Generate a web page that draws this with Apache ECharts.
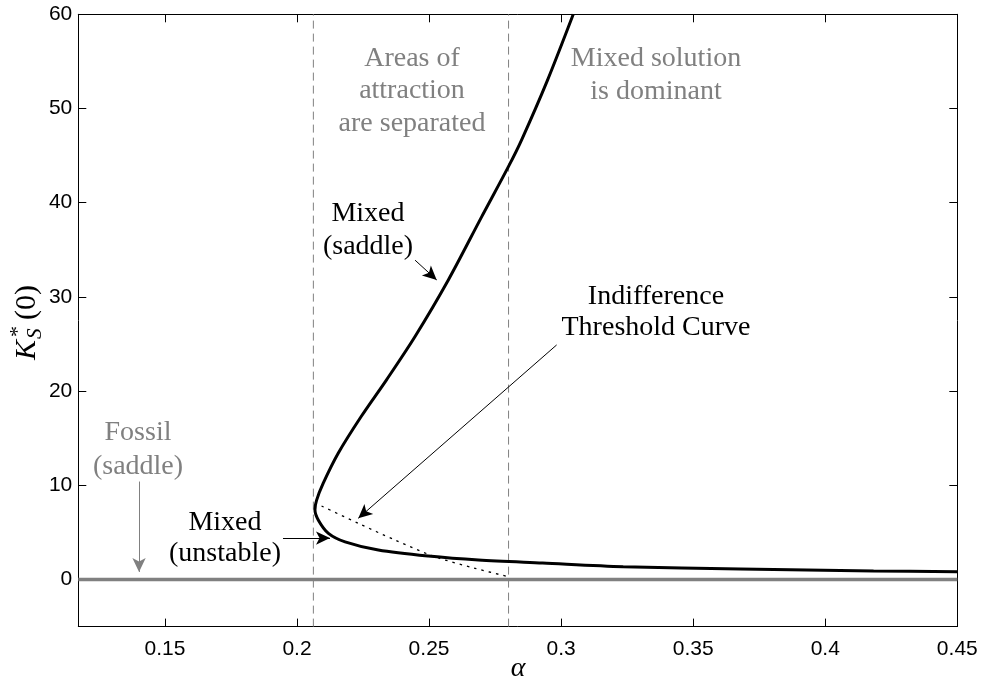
<!DOCTYPE html>
<html>
<head>
<meta charset="utf-8">
<script src="https://cdn.jsdelivr.net/npm/echarts@6.0.0/dist/echarts.min.js"></script>
<style>
  html, body { margin: 0; padding: 0; background: #fff; }
  #chart { width: 983px; height: 682px; }
</style>
</head>
<body>
<div id="chart"></div>
<script>
// Mixed equilibrium branch: upper (saddle) part from the top, through the fold, then the lower (unstable) part
const equilibriumAlpha = [0.3046, 0.2947, 0.2851, 0.2800, 0.2699, 0.2573, 0.2447, 0.2339, 0.2243, 0.2156, 0.2099, 0.2074, 0.2068, 0.2081, 0.2119, 0.2182, 0.2308, 0.2497, 0.2687, 0.2930, 0.3235, 0.3678, 0.4183, 0.4500];
const equilibriumK = [60.0, 52.9, 46.7, 43.8, 38.5, 31.8, 25.8, 21.2, 17.3, 13.4, 10.2, 8.4, 7.4, 6.3, 4.9, 4.0, 3.13, 2.49, 2.07, 1.75, 1.36, 1.11, 0.90, 0.83];

// Indifference threshold curve
const thresholdAlpha = [0.2093, 0.2232, 0.2371, 0.2522, 0.2674, 0.2800];
const thresholdK = [7.8, 5.97, 4.19, 2.42, 1.19, 0.3];

// Fossil equilibrium (K = 0 for every alpha)
const fossilAlpha = [0.1172, 0.45];
const fossilK = [0, 0];

// Regime boundaries (vertical dashed lines)
const boundaryAlpha = [0.2062, 0.2801];

// Axis ranges and ticks
const alphaRange = [0.1172, 0.45];
const kRange = [-5, 60];
const alphaTicks = [0.15, 0.2, 0.25, 0.3, 0.35, 0.4, 0.45];
const kTicks = [0, 10, 20, 30, 40, 50, 60];

const zip = (xs, ys) => xs.map((x, i) => [x, ys[i]]);

const serif = '"Liberation Serif", "Times New Roman", serif';
const sans = '"Liberation Sans", Arial, sans-serif';
const gray = '#808080';

function arrow(from, to, color, width) {
  return [
    { coord: from, lineStyle: { color: color, width: width, type: 'solid' }, symbol: 'none' },
    { coord: to, symbol: 'arrow' }
  ];
}

const chart = echarts.init(document.getElementById('chart'), null, { renderer: 'canvas' });

const tickCommon = { inside: true, length: 8, lineStyle: { color: '#000', width: 1 } };

const boundarySeries = boundaryAlpha.map((a, i) => ({
  name: 'Boundary ' + (i + 1),
  type: 'line',
  data: [[a, kRange[0]], [a, kRange[1]]],
  showSymbol: false,
  silent: true,
  lineStyle: { color: gray, width: 1, type: [8, 5] },
  z: 2
}));

chart.setOption({
  animation: false,
  backgroundColor: '#fff',
  grid: { left: 78.3, right: 25.7, top: 14.3, bottom: 55.4, containLabel: false },
  xAxis: [
    {
      type: 'value', min: alphaRange[0], max: alphaRange[1], position: 'bottom',
      axisLine: { show: true, onZero: false, lineStyle: { color: '#000', width: 1 } },
      axisTick: Object.assign({ customValues: alphaTicks }, tickCommon),
      axisLabel: { customValues: alphaTicks, color: '#000', fontFamily: sans, fontSize: 21, margin: 12 },
      splitLine: { show: false }
    },
    {
      type: 'value', min: alphaRange[0], max: alphaRange[1], position: 'top',
      axisLine: { show: true, onZero: false, lineStyle: { color: '#000', width: 1 } },
      axisTick: Object.assign({ customValues: alphaTicks }, tickCommon),
      axisLabel: { show: false },
      splitLine: { show: false }
    }
  ],
  yAxis: [
    {
      type: 'value', min: kRange[0], max: kRange[1], position: 'left',
      axisLine: { show: true, onZero: false, lineStyle: { color: '#000', width: 1 } },
      axisTick: Object.assign({ customValues: kTicks }, tickCommon),
      axisLabel: { customValues: kTicks, color: '#000', fontFamily: sans, fontSize: 21, margin: 6 },
      splitLine: { show: false }
    },
    {
      type: 'value', min: kRange[0], max: kRange[1], position: 'right',
      axisLine: { show: true, onZero: false, lineStyle: { color: '#000', width: 1 } },
      axisTick: Object.assign({ customValues: kTicks }, tickCommon),
      axisLabel: { show: false },
      splitLine: { show: false }
    }
  ],
  series: [
    {
      name: 'Fossil',
      type: 'line',
      data: zip(fossilAlpha, fossilK),
      showSymbol: false,
      silent: true,
      lineStyle: { color: gray, width: 3.5 },
      z: 1
    },
    ...boundarySeries,
    {
      name: 'Indifference threshold',
      type: 'line',
      data: zip(thresholdAlpha, thresholdK),
      showSymbol: false,
      silent: true,
      smooth: 0.3,
      lineStyle: { color: '#000', width: 1.3, type: [2.5, 5] },
      z: 3
    },
    {
      name: 'Mixed',
      type: 'line',
      data: zip(equilibriumAlpha, equilibriumK),
      showSymbol: false,
      silent: true,
      smooth: 0.3,
      lineStyle: { color: '#000', width: 3 },
      z: 4,
      markLine: {
        silent: true,
        label: { show: false },
        symbolSize: [10, 14],
        data: [
          arrow([0.2447, 33.9], [0.2529, 31.8], '#000', 1),
          arrow([0.2983, 24.9], [0.2232, 6.5], '#000', 1),
          arrow([0.1947, 4.4], [0.2125, 4.4], '#000', 1),
          arrow([0.1402, 10.4], [0.1402, 0.8], gray, 1)
        ]
      }
    }
  ],
  graphic: [
    {
      type: 'text', x: 412, y: 91,
      style: { text: 'Areas of\nattraction\nare separated', fill: gray, font: '28px ' + serif, textAlign: 'center', textVerticalAlign: 'middle', lineHeight: 32.5 }
    },
    {
      type: 'text', x: 656, y: 75,
      style: { text: 'Mixed solution\nis dominant', fill: gray, font: '28px ' + serif, textAlign: 'center', textVerticalAlign: 'middle', lineHeight: 32.5 }
    },
    {
      type: 'text', x: 368, y: 230,
      style: { text: 'Mixed\n(saddle)', fill: '#000', font: '28px ' + serif, textAlign: 'center', textVerticalAlign: 'middle', lineHeight: 33 }
    },
    {
      type: 'text', x: 656, y: 312,
      style: { text: 'Indifference\nThreshold Curve', fill: '#000', font: '28px ' + serif, textAlign: 'center', textVerticalAlign: 'middle', lineHeight: 31 }
    },
    {
      type: 'text', x: 225, y: 538,
      style: { text: 'Mixed\n(unstable)', fill: '#000', font: '28px ' + serif, textAlign: 'center', textVerticalAlign: 'middle', lineHeight: 31 }
    },
    {
      type: 'text', x: 138, y: 450,
      style: { text: 'Fossil\n(saddle)', fill: gray, font: '28px ' + serif, textAlign: 'center', textVerticalAlign: 'middle', lineHeight: 34 }
    },
    // x-axis title
    {
      type: 'text', x: 518, y: 669,
      style: { text: 'α', fill: '#000', font: 'italic 28px ' + serif, textAlign: 'center', textVerticalAlign: 'middle' }
    },
    // y-axis title K*_S(0), rotated to read upwards
    {
      type: 'group', x: 27, y: 322, rotation: Math.PI / 2,
      children: [
        { type: 'text', x: -38, y: 0, style: { text: 'K', fill: '#000', font: 'italic 30px ' + serif, textAlign: 'left', textVerticalAlign: 'middle' } },
        { type: 'text', x: -15, y: -9, style: { text: '*', fill: '#000', font: '22px ' + serif, textAlign: 'left', textVerticalAlign: 'middle' } },
        { type: 'text', x: -17, y: 8, style: { text: 'S', fill: '#000', font: 'italic 21px ' + serif, textAlign: 'left', textVerticalAlign: 'middle' } },
        { type: 'text', x: 2, y: 0, style: { text: '(0)', fill: '#000', font: '30px ' + serif, textAlign: 'left', textVerticalAlign: 'middle' } }
      ]
    }
  ]
});
</script>
</body>
</html>
